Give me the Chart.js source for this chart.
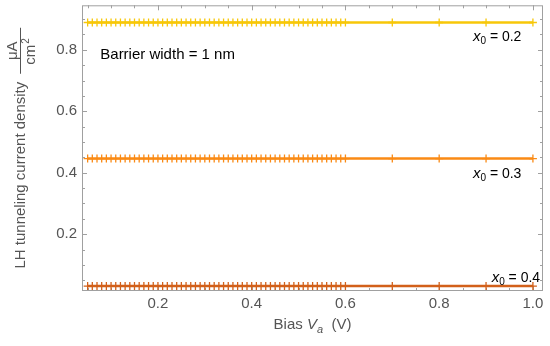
<!DOCTYPE html>
<html>
<head>
<meta charset="utf-8">
<script src="https://cdn.jsdelivr.net/npm/chart.js@4.4.1/dist/chart.umd.min.js"></script>
<style>
  html, body { margin: 0; padding: 0; background: #fff; }
  #wrap { width: 550px; height: 346px; }
</style>
</head>
<body>
<div id="wrap"><canvas id="lh" width="550" height="346"></canvas></div>
<script>
// LH tunneling current density vs bias, three x0 compositions
const biasV = [
  0.05, 0.06, 0.07, 0.08, 0.09, 0.10, 0.11, 0.12, 0.13, 0.14,
  0.15, 0.16, 0.17, 0.18, 0.19, 0.20, 0.21, 0.22, 0.23, 0.24,
  0.25, 0.26, 0.27, 0.28, 0.29, 0.30, 0.31, 0.32, 0.33, 0.34,
  0.35, 0.36, 0.37, 0.38, 0.39, 0.40, 0.41, 0.42, 0.43, 0.44,
  0.45, 0.46, 0.47, 0.48, 0.49, 0.50, 0.51, 0.52, 0.53, 0.54,
  0.55, 0.56, 0.57, 0.58, 0.59, 0.60, 0.70, 0.80, 0.90, 1.00
];
const jX02 = [
  0.889, 0.889, 0.889, 0.889, 0.889, 0.889, 0.889, 0.889, 0.889, 0.889,
  0.889, 0.889, 0.889, 0.889, 0.889, 0.889, 0.889, 0.889, 0.889, 0.889,
  0.889, 0.889, 0.889, 0.889, 0.889, 0.889, 0.889, 0.889, 0.889, 0.889,
  0.889, 0.889, 0.889, 0.889, 0.889, 0.889, 0.889, 0.889, 0.889, 0.889,
  0.889, 0.889, 0.889, 0.889, 0.889, 0.889, 0.889, 0.889, 0.889, 0.889,
  0.889, 0.889, 0.889, 0.889, 0.889, 0.889, 0.889, 0.889, 0.889, 0.889
];
const jX03 = [
  0.446, 0.446, 0.446, 0.446, 0.446, 0.446, 0.446, 0.446, 0.446, 0.446,
  0.446, 0.446, 0.446, 0.446, 0.446, 0.446, 0.446, 0.446, 0.446, 0.446,
  0.446, 0.446, 0.446, 0.446, 0.446, 0.446, 0.446, 0.446, 0.446, 0.446,
  0.446, 0.446, 0.446, 0.446, 0.446, 0.446, 0.446, 0.446, 0.446, 0.446,
  0.446, 0.446, 0.446, 0.446, 0.446, 0.446, 0.446, 0.446, 0.446, 0.446,
  0.446, 0.446, 0.446, 0.446, 0.446, 0.446, 0.446, 0.446, 0.446, 0.446
];
const jX04 = [
  0.031, 0.031, 0.031, 0.031, 0.031, 0.031, 0.031, 0.031, 0.031, 0.031,
  0.031, 0.031, 0.031, 0.031, 0.031, 0.031, 0.031, 0.031, 0.031, 0.031,
  0.031, 0.031, 0.031, 0.031, 0.031, 0.031, 0.031, 0.031, 0.031, 0.031,
  0.031, 0.031, 0.031, 0.031, 0.031, 0.031, 0.031, 0.031, 0.031, 0.031,
  0.031, 0.031, 0.031, 0.031, 0.031, 0.031, 0.031, 0.031, 0.031, 0.031,
  0.031, 0.031, 0.031, 0.031, 0.031, 0.031, 0.031, 0.031, 0.031, 0.031
];
const seriesNames = ['0.2', '0.3', '0.4'];
const xTicks = [0.2, 0.4, 0.6, 0.8, 1.0];
const xTickLabels = ['0.2', '0.4', '0.6', '0.8', '1.0'];
const yTicks = [0.2, 0.4, 0.6, 0.8];
const yTickLabels = ['0.2', '0.4', '0.6', '0.8'];

const FONT = '"Liberation Sans", Arial, sans-serif';
const GREY = '#555';
const colors = ['#f7c708', '#fa8a14', '#d2601a'];

const pts = ys => biasV.map((v, i) => ({ x: v, y: ys[i] }));

// frame + inward ticks, Mathematica style
const framePlugin = {
  id: 'frame',
  beforeDatasetsDraw(chart) {
    const { ctx, chartArea: a, scales: { x, y } } = chart;
    ctx.save();
    ctx.strokeStyle = '#a0a0a0';
    ctx.lineWidth = 1;
    ctx.strokeRect(a.left + 0.5, a.top + 0.5, a.width - 1, a.height - 1);
    ctx.beginPath();
    for (let k = 1; k <= 20; k++) {
      const v = k * 0.05;
      const len = xTicks.some(t => Math.abs(t - v) < 1e-6) ? 5 : 3;
      const px = Math.round(x.getPixelForValue(v)) + 0.5;
      if (px < a.left || px > a.right) continue;
      ctx.moveTo(px, a.bottom); ctx.lineTo(px, a.bottom - len);
      ctx.moveTo(px, a.top); ctx.lineTo(px, a.top + len);
    }
    for (let k = 1; k <= 18; k++) {
      const v = k * 0.05;
      const len = yTicks.some(t => Math.abs(t - v) < 1e-6) ? 5 : 3;
      const py = Math.round(y.getPixelForValue(v)) + 0.5;
      if (py < a.top || py > a.bottom) continue;
      ctx.moveTo(a.left, py); ctx.lineTo(a.left + len, py);
      ctx.moveTo(a.right, py); ctx.lineTo(a.right - len, py);
    }
    ctx.stroke();
    ctx.restore();
  }
};

// axis titles and text annotations
const textPlugin = {
  id: 'texts',
  afterDraw(chart) {
    const { ctx, chartArea: a, scales: { x, y } } = chart;
    ctx.save();

    // y title with μA / cm² fraction
    ctx.fillStyle = GREY;
    ctx.strokeStyle = GREY;
    ctx.translate(20, (a.top + a.bottom) / 2);
    ctx.rotate(-Math.PI / 2);
    ctx.font = '15px ' + FONT;
    ctx.textBaseline = 'middle';
    const main = 'LH tunneling current density';
    const mw = ctx.measureText(main).width;
    const fracW = 46;
    const u0 = -(mw + 8 + fracW) / 2;
    ctx.textAlign = 'left';
    ctx.fillText(main, u0, 1);
    const fu = u0 + mw + 8;
    ctx.lineWidth = 1;
    ctx.beginPath(); ctx.moveTo(fu, 0.5); ctx.lineTo(fu + fracW, 0.5); ctx.stroke();
    ctx.textAlign = 'center';
    ctx.textBaseline = 'alphabetic';
    ctx.fillText('μA', fu + fracW / 2, -3);
    ctx.textBaseline = 'top';
    const cw = ctx.measureText('cm').width;
    ctx.fillText('cm', fu + fracW / 2 - 4, 3);
    ctx.font = '10px ' + FONT;
    ctx.textAlign = 'left';
    ctx.fillText('2', fu + fracW / 2 - 4 + cw / 2 + 1, 1);
    ctx.restore();

    // x title: Bias V_a  (V)
    ctx.save();
    ctx.fillStyle = GREY;
    ctx.textBaseline = 'alphabetic';
    const parts = [
      ['Bias ', '15px ' + FONT, 0],
      ['V', 'italic 15px ' + FONT, 0],
      ['a', 'italic 11px ' + FONT, 4],
      ['  (V)', '15px ' + FONT, 0]
    ];
    let tw = 0;
    parts.forEach(p => { ctx.font = p[1]; tw += ctx.measureText(p[0]).width; });
    let cx = (a.left + a.right) / 2 - tw / 2;
    const by = 329;
    parts.forEach(p => {
      ctx.font = p[1];
      ctx.fillText(p[0], cx, by + p[2]);
      cx += ctx.measureText(p[0]).width;
    });

    // annotation
    ctx.fillStyle = '#000';
    ctx.font = '15px ' + FONT;
    ctx.fillText('Barrier width = 1 nm', x.getPixelForValue(0.077), y.getPixelForValue(0.8) + 9);

    // series labels x0 = ...
    const lab = [
      { xv: 0.872, dy: 18 },
      { xv: 0.872, dy: 19 },
      { xv: 0.912, dy: -4 }
    ];
    [jX02, jX03, jX04].forEach((ys, i) => {
      let lx = x.getPixelForValue(lab[i].xv);
      const ly = y.getPixelForValue(ys[ys.length - 1]) + lab[i].dy;
      ctx.font = 'italic 15px ' + FONT;
      ctx.fillText('x', lx, ly);
      lx += ctx.measureText('x').width;
      ctx.font = '10px ' + FONT;
      ctx.fillText('0', lx, ly + 3);
      lx += ctx.measureText('0').width;
      ctx.font = '14px ' + FONT;
      ctx.fillText(' = ' + seriesNames[i], lx, ly);
    });
    ctx.restore();
  }
};

const mkSet = (ys, i) => ({
  label: 'x0 = ' + seriesNames[i],
  data: pts(ys),
  borderColor: colors[i],
  backgroundColor: colors[i],
  borderWidth: 2.5,
  pointStyle: 'cross',
  pointRadius: 4,
  pointBorderWidth: 1.3,
  pointBorderColor: colors[i],
  tension: 0
});

const noPad = s => { s.paddingTop = 0; s.paddingBottom = 0; s.paddingLeft = 0; s.paddingRight = 0; };

new Chart(document.getElementById('lh'), {
  type: 'line',
  data: { datasets: [mkSet(jX02, 0), mkSet(jX03, 1), mkSet(jX04, 2)] },
  options: {
    responsive: false,
    animation: false,
    layout: { padding: { top: 5, right: 7, left: 0, bottom: 0 } },
    plugins: { legend: { display: false }, tooltip: { enabled: false } },
    scales: {
      x: {
        type: 'linear',
        min: 0.038, max: 1.0215,
        border: { display: false },
        grid: { display: false, drawTicks: false },
        afterBuildTicks: s => { s.ticks = xTicks.map(v => ({ value: v })); },
        afterFit: s => { s.height = 55; noPad(s); },
        ticks: {
          padding: 4,
          color: GREY,
          font: { family: FONT, size: 15 },
          maxRotation: 0,
          autoSkip: false,
          callback: (v) => xTickLabels[xTicks.findIndex(t => Math.abs(t - v) < 1e-6)]
        }
      },
      y: {
        min: 0.015, max: 0.945,
        border: { display: false },
        grid: { display: false, drawTicks: false },
        afterBuildTicks: s => { s.ticks = yTicks.map(v => ({ value: v })); },
        afterFit: s => { s.width = 82; noPad(s); },
        ticks: {
          padding: 5,
          color: GREY,
          font: { family: FONT, size: 15 },
          autoSkip: false,
          callback: (v) => yTickLabels[yTicks.findIndex(t => Math.abs(t - v) < 1e-6)]
        }
      }
    }
  },
  plugins: [framePlugin, textPlugin]
});
</script>
</body>
</html>
